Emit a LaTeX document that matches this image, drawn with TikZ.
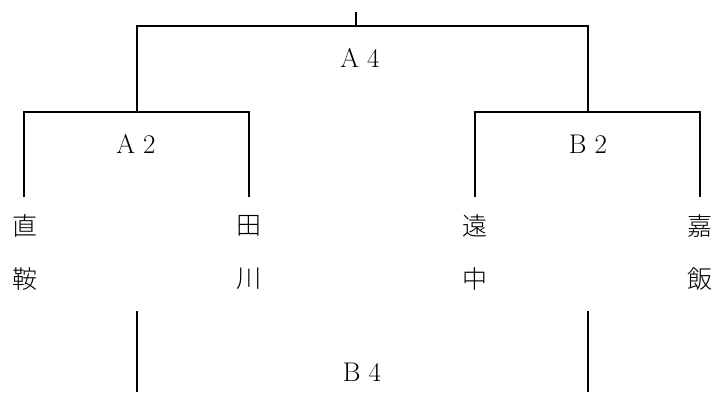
\documentclass[tikz,border=0pt]{standalone}
\usepackage{fontspec}
\newfontfamily\cjk{Noto Sans CJK JP Light}
\usetikzlibrary{positioning}

\begin{document}
\begin{tikzpicture}[
    x=1pt, y=-1pt,
    bracket/.style={draw=black, line width=2pt},
    entrant/.style={font=\cjk\fontsize{25}{25}\selectfont, inner sep=0pt},
    pool/.style={font=\fontsize{27}{27}\selectfont, inner sep=0pt}
]
\useasboundingbox (0,0) rectangle (714,392);

% Entrants: two rows of names
\node[entrant] (n1) at (25,226) {直};
\node[entrant] (n2) at (249,226) {田};
\node[entrant] (n3) at (475,226) {遠};
\node[entrant] (n4) at (700,226) {嘉};
\node[entrant] (m1) at (25,279) {鞍};
\node[entrant] (m2) at (249,279) {川};
\node[entrant] (m3) at (475,279) {中};
\node[entrant] (m4) at (700,279) {飯};

% Pool labels
\node[pool] (lblA4) at (360,58) {A 4};
\node[pool] (lblA2) at (136,144) {A 2};
\node[pool] (lblB2) at (588,144) {B 2};
\node[pool] (lblB4) at (362,372) {B 4};

% Bracket corners
\coordinate (t1) at (24,197);
\coordinate (t2) at (249,197);
\coordinate (t3) at (475,197);
\coordinate (t4) at (700,197);
\coordinate (a2) at (137,112);
\coordinate (b2) at (588,112);
\coordinate (a4) at (356,26);
\coordinate (fin) at (356,12);
\coordinate (b4L) at (137,311);
\coordinate (b4R) at (588,311);

% === Brackets ===

% first round
\draw[bracket] (t1) |- (a2) -| (t2);
\draw[bracket] (t3) |- (b2) -| (t4);

% semi final and final
\draw[bracket] (a2) |- (a4) -| (b2);
\draw[bracket] (a4) -- (fin);

% lower pool, open at the bottom
\draw[bracket] (b4L) -- ++(0,81);
\draw[bracket] (b4R) -- ++(0,81);

\end{tikzpicture}
\end{document}
